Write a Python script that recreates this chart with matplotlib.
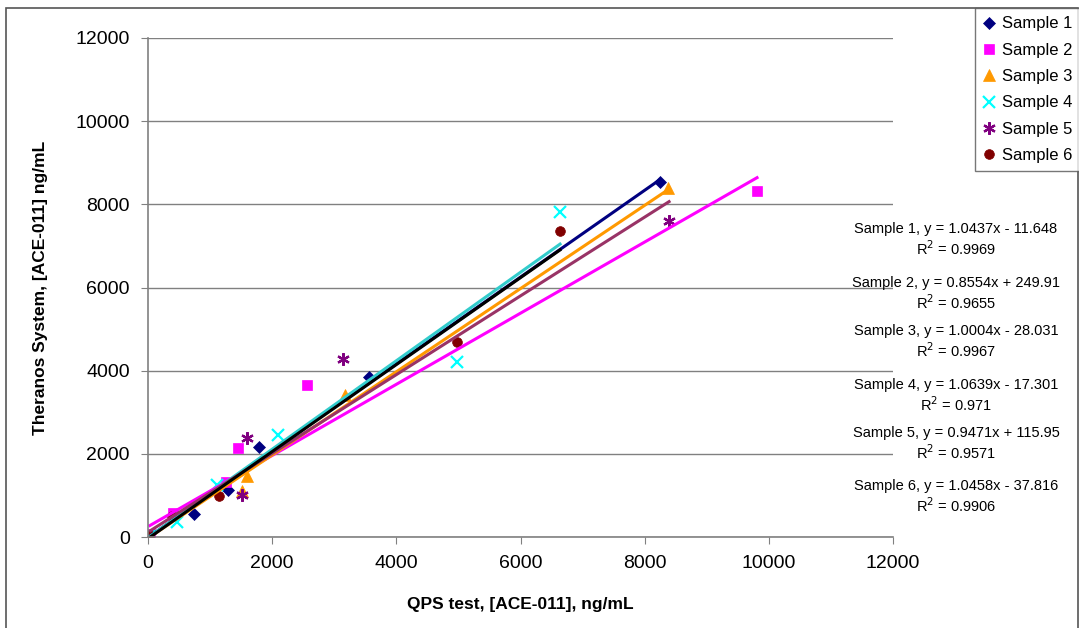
import matplotlib.pyplot as plt
from matplotlib.patches import Rectangle

plt.rcParams["font.family"] = ["Liberation Sans", "DejaVu Sans"]

# sample data (QPS test vs Theranos System)
s1_x = [20, 742, 1283, 1788, 3560, 8247]
s1_y = [30, 553, 1130, 2164, 3848, 8538]
s2_x = [30, 403, 1256, 1450, 2561, 9810]
s2_y = [80, 577, 1323, 2140, 3655, 8321]
s3_x = [20, 1514, 1595, 3173, 8376]
s3_y = [10, 1106, 1467, 3415, 8394]
s4_x = [10, 467, 1111, 2094, 4977, 6637]
s4_y = [20, 361, 1251, 2453, 4209, 7816]
s5_x = [40, 1514, 1595, 3141, 8393]
s5_y = [30, 1010, 2381, 4281, 7600]
s6_x = [20, 387, 1144, 4977, 6637]
s6_y = [50, 505, 986, 4690, 7359]

labels = ["Sample 1", "Sample 2", "Sample 3", "Sample 4", "Sample 5", "Sample 6"]
slopes = [1.0437, 0.8554, 1.0004, 1.0639, 0.9471, 1.0458]
intercepts = [-11.648, 249.91, -28.031, -17.301, 115.95, -37.816]
r2 = ["0.9969", "0.9655", "0.9967", "0.971", "0.9571", "0.9906"]

xs = [s1_x, s2_x, s3_x, s4_x, s5_x, s6_x]
ys = [s1_y, s2_y, s3_y, s4_y, s5_y, s6_y]
markers = ["D", "s", "^", "x", (6, 2, 0), "o"]
marker_colors = ["#000080", "#FF00FF", "#FF9900", "#00FFFF", "#800080", "#800000"]
marker_sizes = [6, 7, 8, 8, 9, 7]
line_colors = ["#000080", "#FF00FF", "#FF9900", "#33CCCC", "#993366", "#000000"]

fig = plt.figure(figsize=(10.79, 6.28), dpi=100)
ax = fig.add_axes([148 / 1079, 1 - 537 / 628, 745 / 1079, 499 / 628])

# outer chart frame
fig.patches.append(Rectangle((6 / 1079, -0.05), 1072 / 1079, 1.05 - 8 / 628,
                             transform=fig.transFigure, fill=False,
                             edgecolor="#555555", linewidth=1.2))

for i in range(6):
    x0, x1 = min(xs[i]), max(xs[i])
    ax.plot([x0, x1], [slopes[i] * x0 + intercepts[i], slopes[i] * x1 + intercepts[i]],
            color=line_colors[i], linewidth=2.2, zorder=2 + i * 0.1)

handles = []
for i in range(6):
    h = ax.plot(xs[i], ys[i], linestyle="none", marker=markers[i], markersize=marker_sizes[i],
                color=marker_colors[i], markeredgecolor=marker_colors[i],
                markeredgewidth=1.6 if i in (3, 4) else 0.5,
                label=labels[i], zorder=1.5)[0]
    handles.append(h)

ax.set_xlim(0, 12000)
ax.set_ylim(0, 12000)
ax.set_xticks(range(0, 12001, 2000))
ax.set_yticks(range(0, 12001, 2000))
ax.tick_params(labelsize=14, length=5, color="#808080", pad=8)
ax.grid(axis="y", color="#808080", linewidth=1.0)
ax.set_axisbelow(True)
for side in ("top", "right"):
    ax.spines[side].set_visible(False)
for side in ("left", "bottom"):
    ax.spines[side].set_color("#808080")
    ax.spines[side].set_linewidth(1.2)

ax.set_xlabel("QPS test, [ACE-011], ng/mL", fontsize=12.5, fontweight="bold", labelpad=18)
ax.set_ylabel("Theranos System, [ACE-011] ng/mL", fontsize=12.5, fontweight="bold", labelpad=20)

# trendline equations
eq_y = [229, 283, 331, 385, 433, 486]
for i in range(6):
    sign = "-" if intercepts[i] < 0 else "+"
    fig.text(956 / 1079, 1 - eq_y[i] / 628,
             f"{labels[i]}, y = {slopes[i]}x {sign} {abs(intercepts[i])}",
             ha="center", va="center", fontsize=10.5)
    fig.text(956 / 1079, 1 - (eq_y[i] + 20) / 628, f"R$^2$ = {r2[i]}",
             ha="center", va="center", fontsize=10.5)

leg = fig.legend(handles=handles, loc="upper left", bbox_to_anchor=(975 / 1079, 1 - 8 / 628),
                 fontsize=12, frameon=True, fancybox=False, edgecolor="#555555",
                 handlelength=0.7, handletextpad=0.4, borderpad=0.5, labelspacing=0.68,
                 borderaxespad=0)
leg.get_frame().set_linewidth(1.0)

fig.savefig("out.png", dpi=100)
